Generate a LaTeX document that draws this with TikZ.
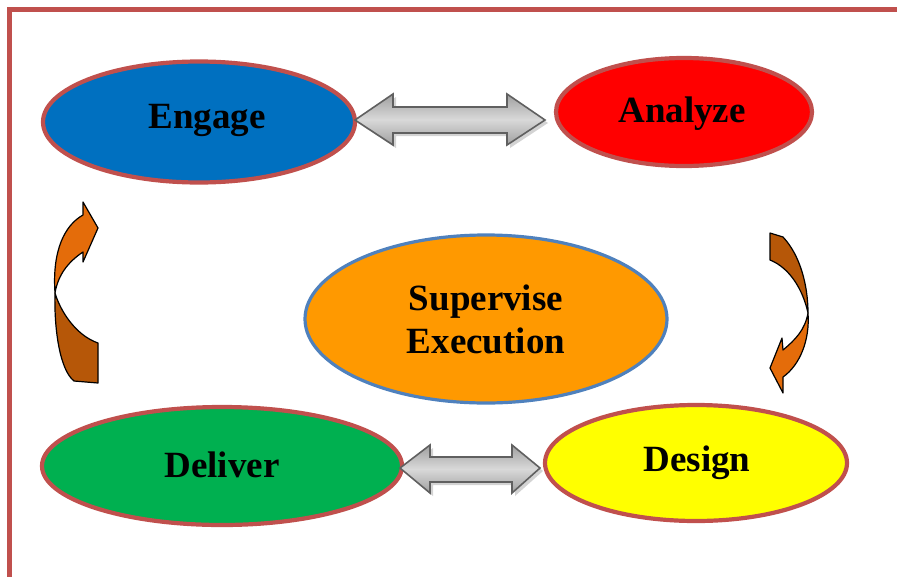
\documentclass[tikz,border=0pt]{standalone}
\usepackage{fontspec}
\setmainfont{Liberation Serif}
\usetikzlibrary{shapes.geometric,shadows}
\definecolor{framered}{HTML}{C0504D}
\definecolor{engblue}{HTML}{0070C0}
\definecolor{anred}{HTML}{FF0000}
\definecolor{supor}{HTML}{FF9900}
\definecolor{supblue}{HTML}{4F81BD}
\definecolor{delgreen}{HTML}{00B050}
\definecolor{desyellow}{HTML}{FFFF00}
\definecolor{arrlight}{HTML}{E46C0A}
\definecolor{arrdark}{HTML}{B65708}
\definecolor{arredge}{HTML}{606060}
\tikzset{
  stage/.style={ellipse, draw=framered, line width=4.2, inner sep=0pt,
    font=\fontsize{37}{43}\selectfont\bfseries, align=center},
  stagetext/.style={font=\fontsize{37}{43}\selectfont\bfseries, align=center, inner sep=0pt},
  grayarrow/.style={draw=arredge, line width=1.6, line join=miter,
    shading=axis, top color=gray!75, bottom color=gray!75, middle color=gray!30,
    drop shadow={shadow xshift=3pt, shadow yshift=-3pt, opacity=0.35, fill=gray}},
  curvearrow/.style={draw=black, line width=1.2, line join=round}
}
\begin{document}
\begin{tikzpicture}[x=1pt,y=-1pt]
\useasboundingbox (0,0) rectangle (897,576);
\draw[framered, line width=5] (9.5,600) -- (9.5,9.5) -- (910,9.5);

\node[stage, fill=engblue, minimum width=312, minimum height=121,
  label={[stagetext, xshift=8, yshift=2]center:Engage}] (engage) at (199,122) {};
\node[stage, fill=anred, minimum width=256, minimum height=108,
  label={[stagetext, xshift=-2, yshift=-2]center:Analyze}] (analyze) at (684,112) {};
\node[stage, fill=supor, draw=supblue, line width=3.2, minimum width=362, minimum height=168] (supervise) at (486,319) {Supervise\\Execution};
\node[stage, fill=delgreen, minimum width=360, minimum height=118,
  label={[stagetext, yshift=1]center:Deliver}] (deliver) at (222,466) {};
\node[stage, fill=desyellow, minimum width=302, minimum height=116,
  label={[stagetext, xshift=1, yshift=0]center:Design}] (design) at (696,463) {};

% gray double arrows
\path[grayarrow] (355,120) -- (393,94) -- (393,107) -- (507,107) -- (507,94) -- (545,120)
  -- (507,145) -- (507,133) -- (393,133) -- (393,145) -- cycle;
\path[grayarrow] (400,468) -- (430,445) -- (430,457) -- (512,457) -- (512,445) -- (540,468)
  -- (512,493) -- (512,482) -- (430,482) -- (430,493) -- cycle;

% left curved arrow
\filldraw[curvearrow, fill=arrdark] (98,343) -- (98,383) -- (74,381)
  .. controls (60,370) and (54,330) .. (55,293)
  .. controls (60,310) and (75,335) .. (98,343) -- cycle;
\filldraw[curvearrow, fill=arrlight] (55,293)
  .. controls (52,250) and (65,225) .. (83,215) -- (83,202) -- (98,228) -- (83,262) -- (83,252)
  .. controls (68,262) and (58,275) .. (55,293) -- cycle;

% right curved arrow
\filldraw[curvearrow, fill=arrdark] (770,233) -- (783,237)
  .. controls (800,255) and (808,285) .. (808,313)
  .. controls (803,290) and (790,268) .. (770,260) -- cycle;
\filldraw[curvearrow, fill=arrlight] (808,313)
  .. controls (810,340) and (800,365) .. (783,377) -- (783,393) -- (770,368) -- (782,338) -- (783,350)
  .. controls (795,340) and (805,330) .. (808,313) -- cycle;
\end{tikzpicture}
\end{document}
